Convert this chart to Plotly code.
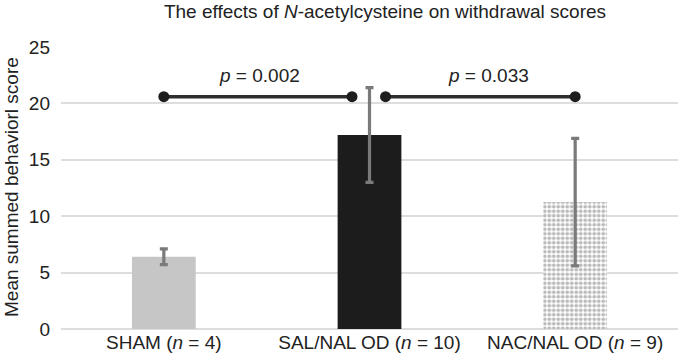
import plotly.graph_objects as go

categories = ["SHAM (<i>n</i> = 4)", "SAL/NAL OD (<i>n</i> = 10)", "NAC/NAL OD (<i>n</i> = 9)"]
means = [6.4, 17.2, 11.25]
errors = [0.7, 4.2, 5.65]
sig_y = [20.6, 20.6]
sig_labels = ["<i>p</i> = 0.002", "<i>p</i> = 0.033"]
y_ticks = [0, 5, 10, 15, 20, 25]

W, H = 680, 359
L, R, T, B = 61, 2, 47, 30
font_fam = "Liberation Sans, Arial, Helvetica, sans-serif"
FS = 19
xs = [0, 1, 2]

fig = go.Figure()
colors = ["#c6c6c6", "#1c1c1c", "#ffffff"]
for i in range(3):
    marker = dict(color=colors[i], line=dict(width=0))
    if i == 2:
        marker["pattern"] = dict(shape=".", size=4.5, solidity=0.55,
                                 fgcolor="#767676", bgcolor="#ffffff",
                                 fillmode="overlay")
    fig.add_trace(go.Bar(
        x=[xs[i]], y=[means[i]], width=0.31, marker=marker,
        error_y=dict(type="data", array=[errors[i]], visible=True,
                     color="#7a7a7a", thickness=3.2, width=4),
        showlegend=False, hoverinfo="skip"))

# significance lines
seg = [(0, 0.915), (1.078, 2)]
for (a, b), yv in zip(seg, sig_y):
    fig.add_trace(go.Scatter(
        x=[a, b], y=[yv, yv], mode="lines+markers",
        line=dict(color="#2e2e2e", width=3.5),
        marker=dict(color="#1e1e1e", size=11),
        showlegend=False, hoverinfo="skip"))

label_x = [0.467, 1.577]
for lx, txt in zip(label_x, sig_labels):
    fig.add_annotation(x=lx, y=22.45, text=txt, showarrow=False,
                       font=dict(family=font_fam, size=FS, color="#222"),
                       xanchor="center", yanchor="middle")

fig.add_annotation(xref="paper", yref="paper",
                   x=(11 - L) / (W - L - R), y=(H - B - 187) / (H - T - B),
                   text="Mean summed behaviorl score", textangle=-90,
                   showarrow=False, xanchor="center", yanchor="middle",
                   font=dict(family=font_fam, size=FS, color="#222"))

fig.update_layout(
    template="none",
    width=W, height=H,
    margin=dict(l=L, r=R, t=T, b=B, autoexpand=False),
    paper_bgcolor="white", plot_bgcolor="white",
    title=dict(text="The effects of <i>N</i>-acetylcysteine on withdrawal scores",
               xref="container", x=385 / W, xanchor="center",
               yref="container", y=1 - 11 / H, yanchor="middle",
               font=dict(family=font_fam, size=FS, color="#222")),
    xaxis=dict(tickvals=xs, ticktext=categories, range=[-0.5, 2.5],
               showgrid=False, zeroline=False, showline=False, automargin=False,
               ticks="", tickfont=dict(family=font_fam, size=FS, color="#222")),
    yaxis=dict(range=[0, 25], tickvals=y_ticks, showgrid=True, automargin=False,
               gridcolor="#dddddd", gridwidth=2, zeroline=True,
               zerolinecolor="#dddddd", zerolinewidth=2, showline=False,
               ticks="", ticklabelstandoff=10,
               tickfont=dict(family=font_fam, size=FS, color="#222")),
)

fig.write_html("out.html", config={"displayModeBar": False},
               post_script="document.body.style.margin='0';document.body.style.overflow='hidden';")
